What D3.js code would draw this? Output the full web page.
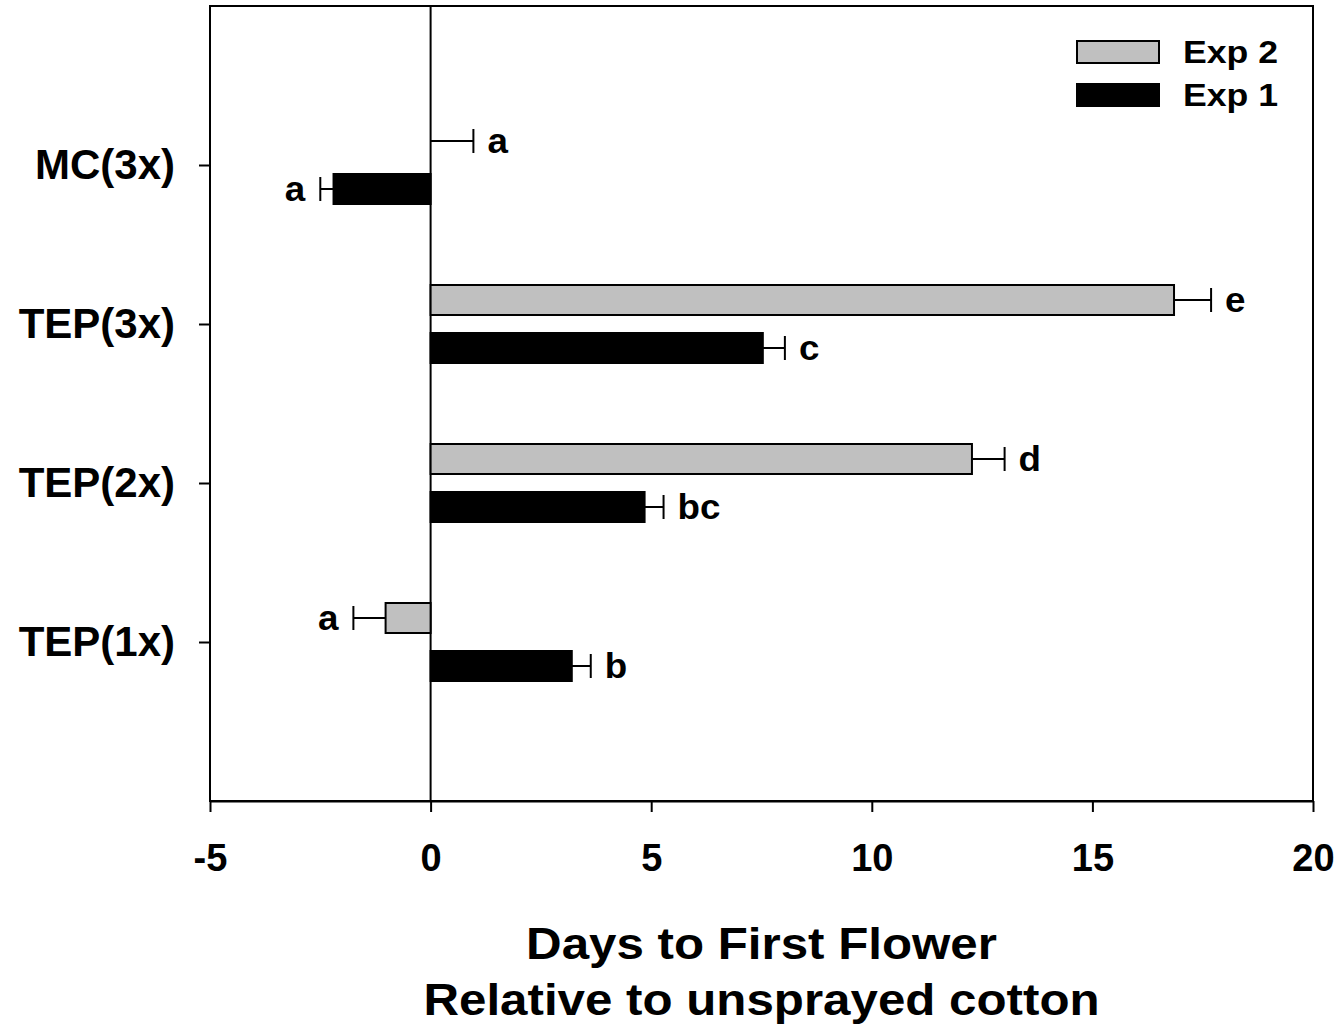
<!DOCTYPE html>
<html>
<head>
<meta charset="utf-8">
<script src="https://cdn.jsdelivr.net/npm/d3@7"></script>
<style>
  body { margin: 0; background: #fff; }
  text { font-family: "Liberation Sans", Arial, sans-serif; font-weight: bold; }
</style>
</head>
<body>
<svg></svg>
<script>
var svg = d3.select('svg');

var width = 1341;
var height = 1029;

svg.attr("width", width)
   .attr("height", height);

// data
var categories = ["MC(3x)", "TEP(3x)", "TEP(2x)", "TEP(1x)"];
var exp2 = [0.0, 16.85, 12.27, -1.02];
var exp2Err = [0.97, 0.84, 0.74, 0.73];
var exp2Letters = ["a", "e", "d", "a"];
var exp1 = [-2.2, 7.53, 4.85, 3.2];
var exp1Err = [0.3, 0.5, 0.43, 0.43];
var exp1Letters = ["a", "c", "bc", "b"];
var xTicks = [-5, 0, 5, 10, 15, 20];

var margin = { "top": 6, "right": 28, "bottom": 228, "left": 210 };

var scaleX = d3.scaleLinear()
  .domain([-5, 20])
  .range([margin.left, width - margin.right]);

// categories sit at 1..4 on a 0..5 scale, top to bottom
var scaleY = d3.scaleLinear()
  .domain([0, 5])
  .range([margin.top, height - margin.bottom]);

var barH = 30;
var offset = 24;

// frame
svg.append("rect")
   .attr("x", scaleX(-5))
   .attr("y", scaleY(0))
   .attr("width", scaleX(20) - scaleX(-5))
   .attr("height", scaleY(5) - scaleY(0))
   .attr("fill", "none")
   .attr("stroke", "#000")
   .attr("stroke-width", 2);

// zero line
svg.append("line")
   .attr("x1", scaleX(0)).attr("x2", scaleX(0))
   .attr("y1", scaleY(0)).attr("y2", scaleY(5))
   .attr("stroke", "#000")
   .attr("stroke-width", 2);

// x axis
var xAxis = d3.axisBottom(scaleX)
  .tickValues(xTicks)
  .tickFormat(function(d) { return String(d); })
  .tickSizeInner(11)
  .tickSizeOuter(0)
  .tickPadding(32);

var gx = svg.append("g")
   .attr("transform", "translate(0," + scaleY(5) + ")")
   .call(xAxis);
gx.select(".domain").attr("stroke-width", 2);
gx.selectAll(".tick line").attr("stroke-width", 2);
gx.selectAll(".tick text")
  .style("font-size", "38px")
  .attr("fill", "#000");

// y axis
var yAxis = d3.axisLeft(scaleY)
  .tickValues([1, 2, 3, 4])
  .tickFormat(function(d) { return categories[d - 1]; })
  .tickSizeInner(11)
  .tickSizeOuter(0)
  .tickPadding(24);

var gy = svg.append("g")
   .attr("transform", "translate(" + scaleX(-5) + ",0)")
   .call(yAxis);
gy.select(".domain").remove();
gy.selectAll(".tick line").attr("stroke-width", 2);
gy.selectAll(".tick text")
  .style("font-size", "42px")
  .attr("fill", "#000");

function drawSeries(vals, errs, letters, dy, fill) {
  var data = vals.map(function(v, i) {
    return { v: v, e: errs[i], l: letters[i], y: scaleY(i + 1) + dy };
  });

  svg.selectAll(null)
     .data(data)
     .enter()
     .append("rect")
     .attr("x", function(d) { return Math.min(scaleX(0), scaleX(d.v)); })
     .attr("y", function(d) { return d.y - barH / 2; })
     .attr("width", function(d) { return Math.abs(scaleX(d.v) - scaleX(0)); })
     .attr("height", barH)
     .attr("fill", fill)
     .attr("stroke", "#000")
     .attr("stroke-width", 2);

  // error bars point away from zero
  var eb = svg.selectAll(null)
     .data(data)
     .enter()
     .append("g")
     .attr("stroke", "#000")
     .attr("stroke-width", 2);

  function tip(d) { return d.v < 0 ? d.v - d.e : d.v + d.e; }

  eb.append("line")
    .attr("x1", function(d) { return scaleX(d.v); })
    .attr("x2", function(d) { return scaleX(tip(d)); })
    .attr("y1", function(d) { return d.y; })
    .attr("y2", function(d) { return d.y; });

  eb.append("line")
    .attr("x1", function(d) { return scaleX(tip(d)); })
    .attr("x2", function(d) { return scaleX(tip(d)); })
    .attr("y1", function(d) { return d.y - 12; })
    .attr("y2", function(d) { return d.y + 12; });

  svg.selectAll(null)
     .data(data)
     .enter()
     .append("text")
     .attr("transform", function(d) {
       var x = scaleX(tip(d)) + (d.v < 0 ? -15 : 14);
       return "translate(" + x + "," + (d.y + 12) + ") scale(1.05,1)";
     })
     .attr("text-anchor", function(d) { return d.v < 0 ? "end" : "start"; })
     .style("font-size", "35px")
     .text(function(d) { return d.l; });
}

drawSeries(exp2, exp2Err, exp2Letters, -offset, "#c0c0c0");
drawSeries(exp1, exp1Err, exp1Letters, offset, "#000");

// legend
var legend = [
  { name: "Exp 2", fill: "#c0c0c0", y: 52 },
  { name: "Exp 1", fill: "#000", y: 95 }
];
var lg = svg.selectAll(null)
  .data(legend)
  .enter()
  .append("g");
lg.append("rect")
  .attr("x", 1077)
  .attr("y", function(d) { return d.y - 11; })
  .attr("width", 82)
  .attr("height", 22)
  .attr("fill", function(d) { return d.fill; })
  .attr("stroke", "#000")
  .attr("stroke-width", 2);
lg.append("text")
  .attr("transform", function(d) { return "translate(1183," + (d.y + 11) + ") scale(1.15,1)"; })
  .style("font-size", "31px")
  .text(function(d) { return d.name; });

// axis title
var cx = (scaleX(-5) + scaleX(20)) / 2;
svg.append("text")
   .attr("transform", "translate(" + cx + ",959) scale(1.12,1)")
   .attr("text-anchor", "middle")
   .style("font-size", "44px")
   .text("Days to First Flower");
svg.append("text")
   .attr("transform", "translate(" + cx + ",1015) scale(1.12,1)")
   .attr("text-anchor", "middle")
   .style("font-size", "44px")
   .text("Relative to unsprayed cotton");
</script>
</body>
</html>
